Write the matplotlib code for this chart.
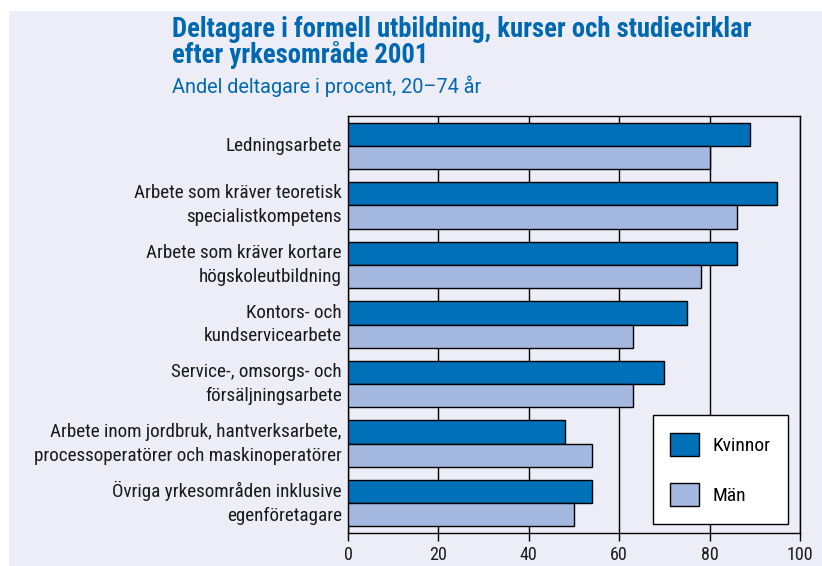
import matplotlib
matplotlib.use("Agg")
import matplotlib.pyplot as plt
from matplotlib.patches import Rectangle
import numpy as np

# data (percent, 20-74 years, 2001)
categories = [
    "Ledningsarbete",
    "Arbete som kräver teoretisk\nspecialistkompetens",
    "Arbete som kräver kortare\nhögskoleutbildning",
    "Kontors- och\nkundservicearbete",
    "Service-, omsorgs- och\nförsäljningsarbete",
    "Arbete inom jordbruk, hantverksarbete,\nprocessoperatörer och maskinoperatörer",
    "Övriga yrkesområden inklusive\negenföretagare",
]
kvinnor = [89, 95, 86, 75, 70, 48, 54]
man = [80, 86, 78, 63, 63, 54, 50]
xticks = [0, 20, 40, 60, 80, 100]

BG = "#ECEDF6"
BLUE_DARK = "#0071B9"
BLUE_LIGHT = "#A5B8DF"
TITLE_BLUE = "#0068B0"
TEXT = "#1a1a1a"
FONT = ["Roboto Condensed", "Archivo Narrow", "Liberation Sans Narrow",
        "Liberation Sans", "DejaVu Sans"]

plt.rcParams["font.family"] = FONT

fig = plt.figure(figsize=(8.22, 5.66), dpi=100)
fig.patch.set_facecolor("white")
fig.patches.append(Rectangle((9 / 822, 0), 1 - 9 / 822, 1 - 11 / 566,
                             transform=fig.transFigure, facecolor=BG,
                             edgecolor="none", zorder=-5))

ax = fig.add_axes([348 / 822, 1 - 533 / 566, 452 / 822, 417 / 566])
ax.set_facecolor(BG)
ax.set_zorder(1)

y = np.arange(len(categories))
h = 0.39
ax.barh(y - h / 2, kvinnor, height=h, color=BLUE_DARK, edgecolor="black",
        lw=1, label="Kvinnor", zorder=3)
ax.barh(y + h / 2, man, height=h, color=BLUE_LIGHT, edgecolor="black",
        lw=1, label="Män", zorder=3)

ax.set_xlim(0, 100)
ax.set_ylim(len(categories) - 0.5, -0.5)
ax.set_xticks(xticks)
ax.set_yticks(y)
ax.set_yticklabels(categories, fontsize=13.8, color=TEXT, linespacing=1.42)
ax.tick_params(axis="y", length=0, pad=4.5)
ax.tick_params(axis="x", length=6, width=1, labelsize=13, pad=3,
               labelcolor=TEXT)
for lab in ax.get_yticklabels():
    lab.set_horizontalalignment("right")
    lab.set_verticalalignment("center")
ax.xaxis.grid(True, color="black", lw=1)
ax.set_axisbelow(True)
for sp in ax.spines.values():
    sp.set_linewidth(1)
    sp.set_color("black")

leg = ax.legend(loc="lower right", bbox_to_anchor=(0.973, 0.022),
                fontsize=14, frameon=True, fancybox=False, framealpha=1,
                edgecolor="black", handlelength=1.45, handleheight=1.45,
                labelspacing=1.4, borderpad=0.9, borderaxespad=0,
                handletextpad=0.7)
leg.get_frame().set_linewidth(1)
leg.set_zorder(5)

# va="baseline" on multi-line text puts the last line on the given y
fig.text(172 / 822, 1 - 63 / 566,
         "Deltagare i formell utbildning, kurser och studiecirklar\n"
         "efter yrkesområde 2001",
         ha="left", va="baseline", fontsize=19.2, fontweight="bold",
         color=TITLE_BLUE, linespacing=0.9)
fig.text(172 / 822, 1 - 93 / 566, "Andel deltagare i procent, 20–74 år",
         ha="left", va="baseline", fontsize=14.3,
         family=["Roboto", "Roboto Condensed", "DejaVu Sans"],
         color=TITLE_BLUE)

fig.savefig("out.png", dpi=100, facecolor=fig.get_facecolor())
